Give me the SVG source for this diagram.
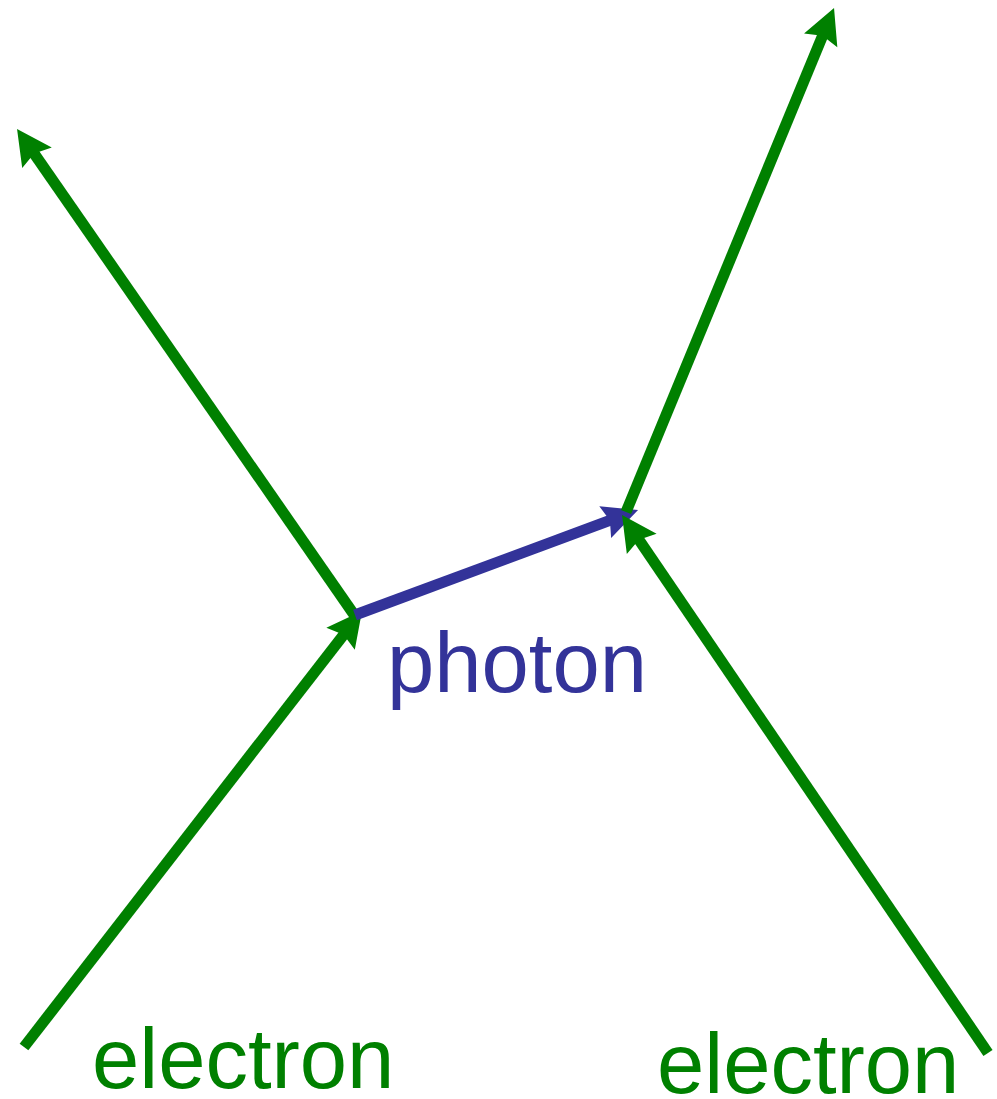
<svg xmlns="http://www.w3.org/2000/svg" width="997" height="1099" viewBox="0 0 997 1099">
<style>
.e{stroke:#008000;stroke-width:11;fill:none}
.p{stroke:#333399;stroke-width:11;fill:none}
.t{font-family:"Liberation Sans",Arial,sans-serif;font-size:85px}
</style>
<defs>
<marker id="ag" markerUnits="userSpaceOnUse" markerWidth="40" markerHeight="40" viewBox="0 0 40 40" refX="10" refY="20" orient="auto" overflow="visible">
<path d="M35 20 L0 2 L5 20 L0 38 Z" fill="#008000"/>
</marker>
<marker id="ab" markerUnits="userSpaceOnUse" markerWidth="40" markerHeight="40" viewBox="0 0 40 40" refX="10" refY="20" orient="auto" overflow="visible">
<path d="M35 20 L0 3 L5 20 L0 37 Z" fill="#333399"/>
</marker>
</defs>
<g id="connectors">
<line class="e" x1="24" y1="1047" x2="346.7" y2="630.8" marker-end="url(#ag)"/>
<line class="e" x1="355" y1="616" x2="31.3" y2="149.5" marker-end="url(#ag)"/>
<line class="p" x1="355" y1="615" x2="614.6" y2="518.7" marker-end="url(#ab)"/>
<line class="e" x1="626" y1="512" x2="824.5" y2="31.1" marker-end="url(#ag)"/>
<line class="e" x1="988" y1="1053" x2="636.1" y2="535.7" marker-end="url(#ag)"/>
</g>
<g id="electron-left"><text class="t" x="92" y="1088" fill="#008000">electron</text></g>
<g id="electron-right"><text class="t" x="657" y="1093" fill="#008000">electron</text></g>
<g id="photon"><text class="t" x="387" y="692" fill="#333399">photon</text></g>
</svg>
